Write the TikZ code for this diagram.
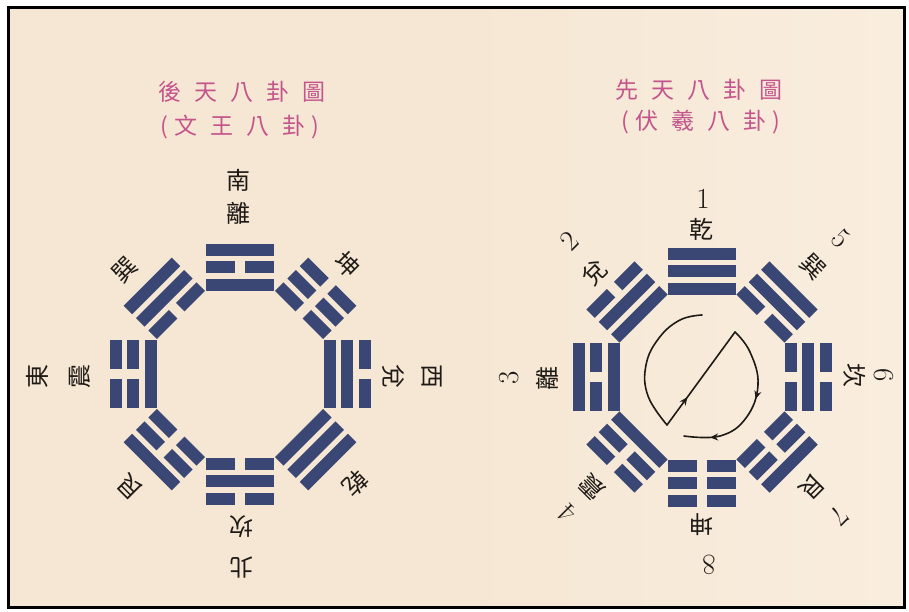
\documentclass[tikz,border=0pt]{standalone}
\usepackage{fontspec}
\newfontfamily\cjk{Noto Sans CJK TC}
\usetikzlibrary{decorations.markings,arrows.meta}
\definecolor{paper}{RGB}{246,231,212}
\definecolor{paperl}{RGB}{249,237,222}
\definecolor{barc}{RGB}{58,70,115}
\definecolor{titlec}{RGB}{196,84,140}
\definecolor{ink}{RGB}{30,26,22}
\newcommand{\tgbar}[2]{%
  \ifnum#2=1
    \fill[barc] (-34,#1-6) rectangle (34,#1+6);
  \else
    \fill[barc] (-34,#1-6) rectangle (-5,#1+6);
    \fill[barc] (5,#1-6) rectangle (34,#1+6);
  \fi}
% trigram: cx cy rotation inner middle outer
\newcommand{\trigram}[6]{%
  \begin{scope}[shift={(#1,#2)},rotate=#3]
    \tgbar{17.5}{#4}\tgbar{0}{#5}\tgbar{-17.5}{#6}
  \end{scope}}
\newcommand{\tsep}{\hspace{13pt}}
\tikzset{
  lbl/.style={inner sep=0pt,text=ink,font=\cjk\fontsize{24}{24}\selectfont},
  num/.style={inner sep=0pt,text=ink,font=\fontsize{29}{29}\selectfont},
  ttl/.style={inner sep=0pt,text=titlec,font=\cjk\fontsize{23}{23}\selectfont},
  flow/.style={line width=1.6pt,draw=ink,line cap=round,line join=round},
  arrowat/.style={postaction={decorate},decoration={markings,
     mark=at position #1 with {\arrow{Stealth[length=8pt,width=7pt]}}}}
}
\begin{document}
\begin{tikzpicture}[x=1pt,y=-1pt]
\useasboundingbox (0,0) rectangle (909,612);
\fill[white] (0,0) rectangle (909,612);
\fill[left color=paper,right color=paperl,middle color=paper] (8,8) rectangle (904,607);
\draw[line width=3pt,black] (8,8) rectangle (904,607);

% ---------- titles ----------
\node[ttl] (t1a) at (242,92) {後\tsep 天\tsep 八\tsep 卦\tsep 圖};
\node[ttl] (t1b) at (240,127) {(\hspace{6pt}文\tsep 王\tsep 八\tsep 卦\hspace{6pt})};
\node[ttl] (t2a) at (699,90) {先\tsep 天\tsep 八\tsep 卦\tsep 圖};
\node[ttl] (t2b) at (701,122) {(\hspace{6pt}伏\tsep 羲\tsep 八\tsep 卦\hspace{6pt})};

% ---------- left diagram: King Wen (later heaven) ----------
\trigram{240}{267}{0}{1}{0}{1}
\trigram{164.3}{298.3}{45}{0}{1}{1}
\trigram{315.7}{298.3}{-45}{0}{0}{0}
\trigram{133}{374}{90}{1}{0}{0}
\trigram{347}{374}{-90}{1}{1}{0}
\trigram{164.3}{449.7}{135}{0}{0}{1}
\trigram{315.7}{449.7}{-135}{1}{1}{1}
\trigram{240}{481}{180}{0}{1}{0}

\node[lbl] (ls1) at (238,180) {南};
\node[lbl] (ls2) at (238,213) {離};
\node[lbl,rotate=180] (ln1) at (241,527) {坎};
\node[lbl,rotate=180] (ln2) at (241,568) {北};
\node[lbl,rotate=90] (le1) at (80,376) {震};
\node[lbl,rotate=90] (le2) at (37,376) {東};
\node[lbl,rotate=-90] (lw1) at (393,376) {兌};
\node[lbl,rotate=-90] (lw2) at (432,376) {西};
\node[lbl,rotate=45] (lse) at (125,270) {巽};
\node[lbl,rotate=-45] (lsw) at (347,265) {坤};
\node[lbl,rotate=135] (lne) at (130,487) {艮};
\node[lbl,rotate=-135] (lnw) at (355,483) {乾};

% ---------- right diagram: Fu Xi (earlier heaven) ----------
\trigram{702}{271}{0}{1}{1}{1}
\trigram{627}{302}{45}{1}{1}{0}
\trigram{596}{377}{90}{1}{0}{1}
\trigram{627}{452}{135}{1}{0}{0}
\trigram{702}{483}{180}{0}{0}{0}
\trigram{777}{452}{-135}{0}{0}{1}
\trigram{808}{377}{-90}{0}{1}{0}
\trigram{777}{302}{-45}{0}{1}{1}

\node[num] (n1) at (703,199) {1};
\node[lbl] (r1) at (701,229) {乾};
\node[lbl,rotate=45] (r2) at (595,273) {兌};
\node[num,rotate=45] (n2) at (569,241) {2};
\node[lbl,rotate=90] (r3) at (547,378) {離};
\node[num,rotate=90] (n3) at (509,378) {3};
\node[lbl,rotate=135] (r4) at (592,487) {震};
\node[num,rotate=135] (n4) at (567,514) {4};
\node[lbl,rotate=-45] (r5) at (813,267) {巽};
\node[num,rotate=-45] (n5) at (841,239) {5};
\node[lbl,rotate=-90] (r6) at (855,375) {坎};
\node[num,rotate=-90] (n6) at (884,375) {6};
\node[lbl,rotate=-135] (r7) at (812,487) {艮};
\node[num,rotate=-135] (n7) at (840,516) {7};
\node[lbl,rotate=180] (r8) at (701,525) {坤};
\node[num,rotate=180] (n8) at (709,565) {8};

% central sequence path
\coordinate (p1) at (702,315);
\coordinate (p4) at (667,425);
\coordinate (p5) at (735,332);
\coordinate (p8) at (684,436);
\draw[flow] plot[smooth,tension=0.7] coordinates {(p1) (680,320) (659,338) (646,365) (648,396) (p4)};
\draw[flow,arrowat=0.3] (p4) -- (p5);
\draw[flow,postaction={decorate},decoration={markings,
   mark=at position 0.45 with {\arrow{Stealth[length=8pt,width=7pt]}},
   mark=at position 0.84 with {\arrow{Stealth[length=8pt,width=7pt]}}}]
   plot[smooth,tension=0.7] coordinates {(p5) (750,352) (758,385) (746,418) (720,436) (p8)};
\end{tikzpicture}
\end{document}
